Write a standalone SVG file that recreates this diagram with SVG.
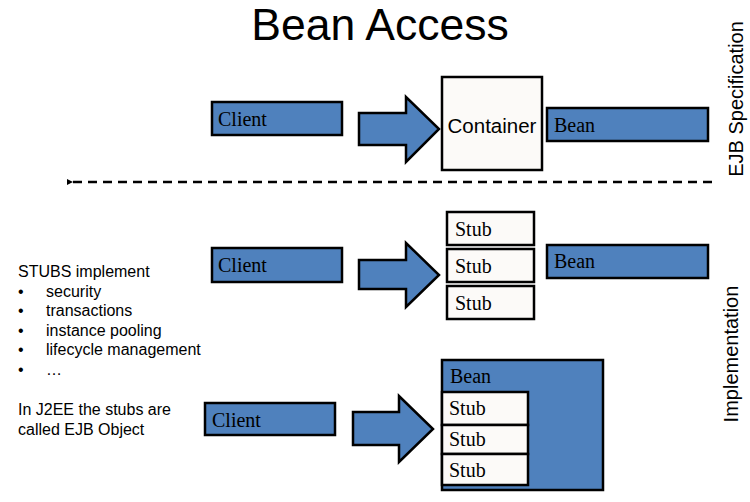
<svg xmlns="http://www.w3.org/2000/svg" width="750" height="502" viewBox="0 0 750 502">
<defs>
<style>
.blue{fill:#4F81BD;stroke:#000;stroke-width:2.5}
.white{fill:#FCFAF8;stroke:#000;stroke-width:2.5}
.arr{fill:#4F81BD;stroke:#000;stroke-width:2.5;stroke-linejoin:miter}
.tm{font-family:"Liberation Serif",serif;font-size:20px;fill:#000}
.sa{font-family:"Liberation Sans",Arial,sans-serif;fill:#000}
.note{font-family:"Liberation Sans",Arial,sans-serif;font-size:16px;fill:#000}
</style>
<marker id="ah" markerWidth="6" markerHeight="6" refX="1" refY="3" orient="auto" markerUnits="userSpaceOnUse">
<path d="M6,0 L0,3 L6,6 Z" fill="#000"/>
</marker>
</defs>
<rect width="750" height="502" fill="#fff"/>
<text class="sa" x="380" y="40" font-size="44.5" text-anchor="middle">Bean Access</text>
<text class="sa" font-size="20" text-anchor="middle" transform="translate(743,99) rotate(-90)">EJB Specification</text>
<text class="sa" font-size="20" text-anchor="middle" transform="translate(738,354) rotate(-90)">Implementation</text>

<g id="connectors">
<line x1="712" y1="182" x2="72" y2="182" stroke="#000" stroke-width="2.5" stroke-dasharray="9,6" marker-end="url(#ah)"/>
<path id="arrow1" class="arr" d="M359,113 L406,113 L406,97 L439,129 L406,162 L406,145 L359,145 Z"/>
<path id="arrow2" class="arr" d="M359,260 L406,260 L406,243 L439,275 L406,307 L406,289 L359,289 Z"/>
<path id="arrow3" class="arr" d="M353,412 L399,412 L399,396 L433,429 L399,462 L399,445 L353,445 Z"/>
</g>

<g id="client1"><rect class="blue" x="212" y="102" width="130" height="33"/><text class="tm" x="218" y="126">Client</text></g>
<g id="container"><rect class="white" x="442" y="77" width="100" height="93"/><text class="sa" x="492" y="133" font-size="20.5" text-anchor="middle">Container</text></g>
<g id="bean1"><rect class="blue" x="547" y="108" width="161" height="33"/><text class="tm" x="554" y="132">Bean</text></g>

<g id="client2"><rect class="blue" x="212" y="248" width="130" height="34"/><text class="tm" x="218" y="272">Client</text></g>
<g id="stub1"><rect class="white" x="447" y="212" width="87" height="33"/><text class="tm" x="455" y="236">Stub</text></g>
<g id="stub2"><rect class="white" x="447" y="249" width="87" height="33"/><text class="tm" x="455" y="273">Stub</text></g>
<g id="stub3"><rect class="white" x="447" y="286" width="87" height="33"/><text class="tm" x="455" y="310">Stub</text></g>
<g id="bean2"><rect class="blue" x="547" y="245" width="161" height="33"/><text class="tm" x="554" y="268">Bean</text></g>

<g id="client3"><rect class="blue" x="205" y="403" width="130" height="32"/><text class="tm" x="212" y="427">Client</text></g>
<g id="bean3"><rect class="blue" x="442" y="360" width="161" height="130"/><text class="tm" x="450" y="383">Bean</text>
<rect class="white" x="442" y="392" width="86" height="33"/><text class="tm" x="449" y="415">Stub</text>
<rect class="white" x="442" y="425" width="86" height="29"/><text class="tm" x="449" y="446">Stub</text>
<rect class="white" x="442" y="454" width="86" height="31"/><text class="tm" x="449" y="477">Stub</text>
</g>

<g id="notes">
<text class="note" x="18" y="277">STUBS implement</text>
<text class="note" x="18" y="297">•</text><text class="note" x="46" y="297">security</text>
<text class="note" x="18" y="316">•</text><text class="note" x="46" y="316">transactions</text>
<text class="note" x="18" y="336">•</text><text class="note" x="46" y="336">instance pooling</text>
<text class="note" x="18" y="355">•</text><text class="note" x="46" y="355">lifecycle management</text>
<text class="note" x="18" y="375">•</text><text class="note" x="46" y="375">…</text>
<text class="note" x="18" y="415">In J2EE the stubs are</text>
<text class="note" x="18" y="435">called EJB Object</text>
</g>
</svg>
